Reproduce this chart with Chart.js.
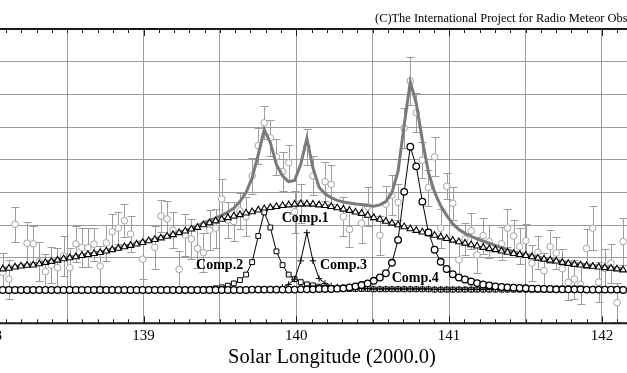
<!DOCTYPE html>
<html>
<head>
<meta charset="utf-8">
<title>Radio meteor activity - model components</title>
<script src="https://cdn.jsdelivr.net/npm/chart.js@4.4.1/dist/chart.umd.min.js"></script>
<style>
  html, body { margin: 0; padding: 0; background: #fff; }
  #wrap { position: relative; width: 627px; height: 373px; overflow: hidden; }
  #chart { position: absolute; left: -70px; top: 0; }
</style>
</head>
<body>
<div id="wrap"><canvas id="chart" width="804" height="373"></canvas></div>
<script>
// solar longitude of each hourly sample (J2000.0)
const lon = [
  138.079, 138.119, 138.159, 138.198, 138.238, 138.278, 138.318, 138.358, 138.397, 138.437,
  138.477, 138.517, 138.557, 138.596, 138.636, 138.676, 138.716, 138.756, 138.795, 138.835,
  138.875, 138.915, 138.955, 138.994, 139.034, 139.074, 139.114, 139.154, 139.193, 139.233,
  139.273, 139.313, 139.353, 139.392, 139.432, 139.472, 139.512, 139.552, 139.591, 139.631,
  139.671, 139.711, 139.751, 139.790, 139.830, 139.870, 139.910, 139.950, 139.989, 140.029,
  140.069, 140.109, 140.149, 140.188, 140.228, 140.268, 140.308, 140.348, 140.387, 140.427,
  140.467, 140.507, 140.547, 140.586, 140.626, 140.666, 140.706, 140.746, 140.785, 140.825,
  140.865, 140.905, 140.945, 140.984, 141.024, 141.064, 141.104, 141.144, 141.183, 141.223,
  141.263, 141.303, 141.343, 141.382, 141.422, 141.462, 141.502, 141.542, 141.581, 141.621,
  141.661, 141.701, 141.741, 141.780, 141.820, 141.860, 141.900, 141.940, 141.979, 142.019,
  142.059, 142.099, 142.139
];

// observed activity and its error
const obsRate = [
  0.55, 0.35, 2.03, null, 1.45, 1.43, 0.88, 0.58, 0.78, 0.70,
  1.06, 0.70, 1.43, 1.32, 1.31, 1.42, 0.75, 1.46, 1.80, 1.91,
  2.14, 1.73, null, 0.96, null, 1.32, 2.28, 2.19, 1.85, 0.65,
  1.70, 1.58, 1.29, 1.16, 1.85, 1.91, 2.80, 2.16, 2.11, 2.44,
  2.26, 3.51, 4.43, 5.13, 4.67, 4.09, 3.64, 3.91, 2.41, 2.67,
  4.40, 3.51, null, 3.33, 3.25, null, 2.26, 1.87, null, 2.06,
  2.57, null, 1.69, 2.64, 2.92, 2.70, 4.97, 6.41, 5.44, 3.99,
  3.15, 4.09, 1.91, 3.19, 2.67, 0.94, 1.58, 1.83, 1.09, 1.68,
  1.50, null, 1.43, 1.91, 1.67, 1.35, 1.53, 0.84, 1.17, 0.61,
  1.34, 1.15, 0.67, 0.25, 0.35, 0.19, 1.29, 1.91, 0.26, 0.68,
  0.84, -0.37, 1.50
];
const obsErr = [
  0.60, 0.60, 0.53, null, 0.65, 0.55, 0.60, 0.55, 0.55, 0.60,
  0.60, 0.60, 0.55, 0.60, 0.60, 0.50, 0.60, 0.55, 0.55, 0.50,
  0.50, 0.55, null, 0.60, null, 0.65, 0.50, 0.55, 0.55, 0.55,
  0.65, 0.60, 0.60, 0.60, 0.60, 0.60, 0.60, 0.55, 0.60, 0.55,
  0.60, 0.55, 0.55, 0.50, 0.55, 0.55, 0.60, 0.55, 0.65, 0.60,
  0.55, 0.60, null, 0.60, 0.60, null, 0.60, 0.55, null, 0.60,
  0.60, null, 0.60, 0.55, 0.60, 0.55, 0.60, 0.72, 0.60, 0.55,
  0.55, 0.60, 0.60, 0.40, 0.50, 0.55, 0.50, 0.55, 0.55, 0.55,
  0.50, null, 0.50, 0.58, 0.50, 0.55, 0.50, 0.55, 0.50, 0.55,
  0.50, 0.50, 0.60, 0.55, 0.60, 0.60, 0.60, 0.67, 0.60, 0.60,
  0.60, 0.60, 0.73
];

// fitted model (grey) and its four components
const total = [
  0.68, 0.70, 0.74, 0.77, 0.79, 0.80, 0.84, 0.88, 0.91, 0.95,
  0.99, 1.02, 1.05, 1.09, 1.12, 1.15, 1.18, 1.23, 1.27, 1.31,
  1.36, 1.40, 1.44, 1.49, 1.54, 1.58, 1.63, 1.68, 1.73, 1.79,
  1.84, 1.90, 1.98, 2.07, 2.14, 2.22, 2.30, 2.40, 2.52, 2.72,
  3.00, 3.45, 4.16, 4.92, 4.53, 3.85, 3.51, 3.33, 3.37, 3.86,
  4.65, 3.75, 3.16, 2.96, 2.84, 2.76, 2.71, 2.68, 2.65, 2.63,
  2.60, 2.58, 2.62, 2.72, 3.00, 3.65, 5.06, 6.38, 5.73, 4.60,
  3.61, 3.01, 2.59, 2.30, 2.04, 1.87, 1.75, 1.66, 1.58, 1.51,
  1.45, 1.38, 1.31, 1.25, 1.19, 1.14, 1.11, 1.06, 1.02, 0.99,
  0.96, 0.93, 0.89, 0.86, 0.83, 0.81, 0.79, 0.77, 0.75, 0.73,
  0.71, 0.69, 0.66
];
const comp1 = [
  0.66, 0.68, 0.72, 0.75, 0.77, 0.78, 0.82, 0.86, 0.89, 0.93,
  0.97, 1.00, 1.03, 1.07, 1.10, 1.13, 1.16, 1.21, 1.25, 1.29,
  1.34, 1.38, 1.42, 1.47, 1.52, 1.56, 1.61, 1.66, 1.71, 1.77,
  1.82, 1.88, 1.93, 2.01, 2.07, 2.13, 2.18, 2.23, 2.28, 2.32,
  2.37, 2.41, 2.46, 2.50, 2.54, 2.57, 2.60, 2.62, 2.64, 2.65,
  2.65, 2.64, 2.62, 2.60, 2.57, 2.53, 2.49, 2.45, 2.40, 2.36,
  2.30, 2.23, 2.18, 2.12, 2.06, 2.01, 1.95, 1.89, 1.84, 1.79,
  1.74, 1.69, 1.64, 1.59, 1.54, 1.49, 1.45, 1.40, 1.36, 1.32,
  1.28, 1.25, 1.21, 1.17, 1.13, 1.10, 1.07, 1.03, 0.99, 0.96,
  0.93, 0.90, 0.86, 0.83, 0.80, 0.78, 0.76, 0.74, 0.72, 0.70,
  0.68, 0.66, 0.63
];
const comp2 = [
  null, null, null, null, null, null, null, null, null, null,
  null, null, null, null, null, null, null, null, null, null,
  null, null, null, null, null, null, null, null, null, null,
  null, null, 0.03, 0.04, 0.05, 0.07, 0.10, 0.15, 0.22, 0.32,
  0.49, 0.87, 1.67, 2.39, 1.93, 1.20, 0.78, 0.49, 0.35, 0.26,
  0.19, 0.16, 0.12, 0.09, 0.07, 0.06, 0.06, 0.05, 0.05, 0.05,
  0.05, 0.04, 0.04, 0.04, 0.04, 0.04, 0.04, 0.04, 0.04, 0.04,
  0.04, 0.03, 0.03, 0.03, 0.03, 0.03, 0.03, 0.03, 0.03, 0.03,
  0.03, 0.03, 0.03, 0.03, 0.03, 0.03, 0.03, 0.03, 0.03, 0.03,
  0.03, 0.03, 0.03, 0.03, 0.03, 0.03, 0.03, 0.03, 0.03, 0.03,
  0.03, 0.03, 0.03
];
const comp3 = [
  null, null, null, null, null, null, null, null, null, null,
  null, null, null, null, null, null, null, null, null, null,
  null, null, null, null, null, null, null, null, null, null,
  null, null, null, null, null, null, null, null, null, null,
  null, null, null, null, 0.03, 0.05, 0.10, 0.19, 0.35, 0.91,
  1.77, 0.91, 0.37, 0.22, 0.15, 0.11, 0.09, 0.08, 0.07, 0.06,
  0.06, 0.05, 0.05, 0.05, 0.05, 0.05, 0.05, 0.05, 0.05, 0.05,
  0.05, 0.04, 0.04, 0.04, 0.04, 0.04, 0.04, 0.04, 0.04, 0.04,
  0.04, 0.04, 0.04, 0.04, 0.04, 0.04, 0.04, 0.04, 0.04, 0.04,
  0.04, 0.04, 0.04, 0.04, 0.04, 0.04, 0.04, 0.04, 0.04, 0.04,
  0.04, 0.04, 0.04
];
const comp4 = [
  0.02, 0.02, 0.02, 0.02, 0.02, 0.02, 0.02, 0.02, 0.02, 0.02,
  0.02, 0.02, 0.02, 0.02, 0.02, 0.02, 0.02, 0.02, 0.02, 0.02,
  0.02, 0.02, 0.02, 0.02, 0.02, 0.02, 0.02, 0.02, 0.02, 0.02,
  0.02, 0.02, 0.02, 0.02, 0.02, 0.02, 0.02, 0.02, 0.02, 0.02,
  0.02, 0.03, 0.03, 0.03, 0.03, 0.03, 0.03, 0.03, 0.03, 0.04,
  0.04, 0.04, 0.05, 0.05, 0.05, 0.06, 0.07, 0.10, 0.13, 0.17,
  0.22, 0.30, 0.40, 0.53, 0.85, 1.55, 3.02, 4.40, 3.80, 2.72,
  1.78, 1.25, 0.88, 0.66, 0.50, 0.40, 0.34, 0.28, 0.23, 0.19,
  0.16, 0.13, 0.11, 0.10, 0.09, 0.08, 0.07, 0.06, 0.06, 0.05,
  0.05, 0.04, 0.04, 0.04, 0.04, 0.04, 0.03, 0.03, 0.03, 0.03,
  0.03, 0.03, 0.02
];

// component labels, anchored at (longitude, value) of their left/middle point
const compNames = ["Comp.1", "Comp.2", "Comp.3", "Comp.4"];
const compNameLon = [139.904, 139.344, 140.155, 140.624];
const compNameVal = [2.20, 0.78, 0.78, 0.385];

const copyright = "(C)The International Project for Radio Meteor Observation";

const serif = '"Liberation Serif", "Times New Roman", serif';

function isWhole(v) {
  return Math.abs(v - Math.round(v)) < 1e-6;
}
function isHalf(v) {
  return Math.abs(v * 2 - Math.round(v * 2)) < 1e-6;
}
function series(values) {
  return lon.map((x, k) => ({ x: x, y: values[k] }));
}

const framePlugin = {
  id: "frame",
  beforeDatasetsDraw(chart) {
    // error bars behind everything
    const ctx = chart.ctx;
    const xs = chart.scales.x, ys = chart.scales.y;
    ctx.save();
    ctx.strokeStyle = "#9c9c9c";
    ctx.lineWidth = 1;
    lon.forEach((l, k) => {
      if (obsRate[k] == null) return;
      const px = Math.round(xs.getPixelForValue(l)) + 0.5;
      const top = Math.round(ys.getPixelForValue(obsRate[k] + obsErr[k])) + 0.5;
      const bot = Math.round(ys.getPixelForValue(obsRate[k] - obsErr[k])) + 0.5;
      ctx.beginPath();
      ctx.moveTo(px, top); ctx.lineTo(px, bot);
      ctx.moveTo(px - 4, top); ctx.lineTo(px + 4, top);
      ctx.moveTo(px - 4, bot); ctx.lineTo(px + 4, bot);
      ctx.stroke();
    });
    ctx.restore();
  },
  afterDatasetsDraw(chart) {
    const ctx = chart.ctx;
    const xs = chart.scales.x, ys = chart.scales.y;
    const area = chart.chartArea;
    ctx.save();
    // top and bottom frame
    ctx.strokeStyle = "#1a1a1a";
    ctx.lineWidth = 2;
    ctx.beginPath();
    ctx.moveTo(area.left, area.top); ctx.lineTo(area.right, area.top);
    ctx.moveTo(area.left, area.bottom); ctx.lineTo(area.right, area.bottom);
    ctx.stroke();
    // inward tick marks every 0.1 deg
    ctx.lineWidth = 1;
    xs.ticks.forEach(t => {
      const px = Math.round(xs.getPixelForValue(t.value)) + 0.5;
      const len = isWhole(t.value) ? 7 : 4;
      ctx.beginPath();
      ctx.moveTo(px, area.top); ctx.lineTo(px, area.top + len);
      ctx.moveTo(px, area.bottom); ctx.lineTo(px, area.bottom - len);
      ctx.stroke();
    });
    // component labels
    ctx.fillStyle = "#000";
    ctx.font = "bold 14px " + serif;
    ctx.textAlign = "left";
    ctx.textBaseline = "middle";
    compNames.forEach((name, k) => {
      ctx.fillText(name, xs.getPixelForValue(compNameLon[k]), ys.getPixelForValue(compNameVal[k]));
    });
    // copyright line
    ctx.font = "12.4px " + serif;
    ctx.textBaseline = "alphabetic";
    ctx.fillText(copyright, 445, 21.5);
    ctx.restore();
  }
};

new Chart(document.getElementById("chart").getContext("2d"), {
  type: "line",
  data: {
    datasets: [
      {
        label: "Comp.4", data: series(comp4), order: 1,
        borderColor: "#000", borderWidth: 1, tension: 0,
        pointStyle: "circle", pointRadius: 3.3, pointBorderWidth: 1.3,
        pointBorderColor: "#000", pointBackgroundColor: "#fff"
      },
      {
        label: "Comp.3", data: series(comp3), order: 2,
        borderColor: "#000", borderWidth: 1, tension: 0,
        pointStyle: "cross", pointRadius: 3.2, pointBorderWidth: 1,
        pointBorderColor: "#000", pointBackgroundColor: "#fff"
      },
      {
        label: "Comp.2", data: series(comp2), order: 3,
        borderColor: "#000", borderWidth: 1, tension: 0,
        pointStyle: "rect", pointRadius: 3.4, pointBorderWidth: 1,
        pointBorderColor: "#000", pointBackgroundColor: "#fff"
      },
      {
        label: "Comp.1", data: series(comp1), order: 4,
        borderColor: "#000", borderWidth: 1, tension: 0,
        pointStyle: "triangle", pointRadius: 3.8, pointBorderWidth: 1.1,
        pointBorderColor: "#000", pointBackgroundColor: "#fff"
      },
      {
        label: "Model", data: series(total), order: 5,
        borderColor: "#7a7a7a", borderWidth: 3, tension: 0,
        pointRadius: 0
      },
      {
        label: "Observed", data: series(obsRate), order: 6,
        showLine: false,
        pointStyle: "circle", pointRadius: 3.3, pointBorderWidth: 1,
        pointBorderColor: "#a3a3a3", pointBackgroundColor: "#fff"
      }
    ]
  },
  options: {
    responsive: false,
    animation: false,
    layout: { autoPadding: false, padding: { top: 29, left: 0, right: 0, bottom: 0 } },
    plugins: {
      legend: { display: false },
      tooltip: { enabled: false }
    },
    scales: {
      x: {
        type: "linear",
        min: 137.6027,
        max: 142.8645,
        border: { display: false },
        afterFit: scale => { scale.height = 49.7; },
        grid: {
          drawTicks: false,
          color: c => (c.tick && isHalf(c.tick.value)) ? "#9a9a9a" : "rgba(0,0,0,0)"
        },
        ticks: {
          stepSize: 0.1,
          includeBounds: false,
          autoSkip: false,
          maxRotation: 0,
          padding: 5.5,
          color: "#000",
          font: { family: serif, size: 15, lineHeight: 1 },
          callback: v => isWhole(v) ? String(Math.round(v)) : ""
        },
        title: {
          display: true,
          text: "Solar Longitude (2000.0)",
          color: "#000",
          font: { family: serif, size: 20.5, lineHeight: 1 },
          padding: { top: 0, bottom: 5 }
        }
      },
      y: {
        min: -1,
        max: 8,
        border: { display: false },
        grid: { drawTicks: false, color: "#9a9a9a" },
        ticks: { display: false, stepSize: 1 }
      }
    }
  },
  plugins: [framePlugin]
});
</script>
</body>
</html>
